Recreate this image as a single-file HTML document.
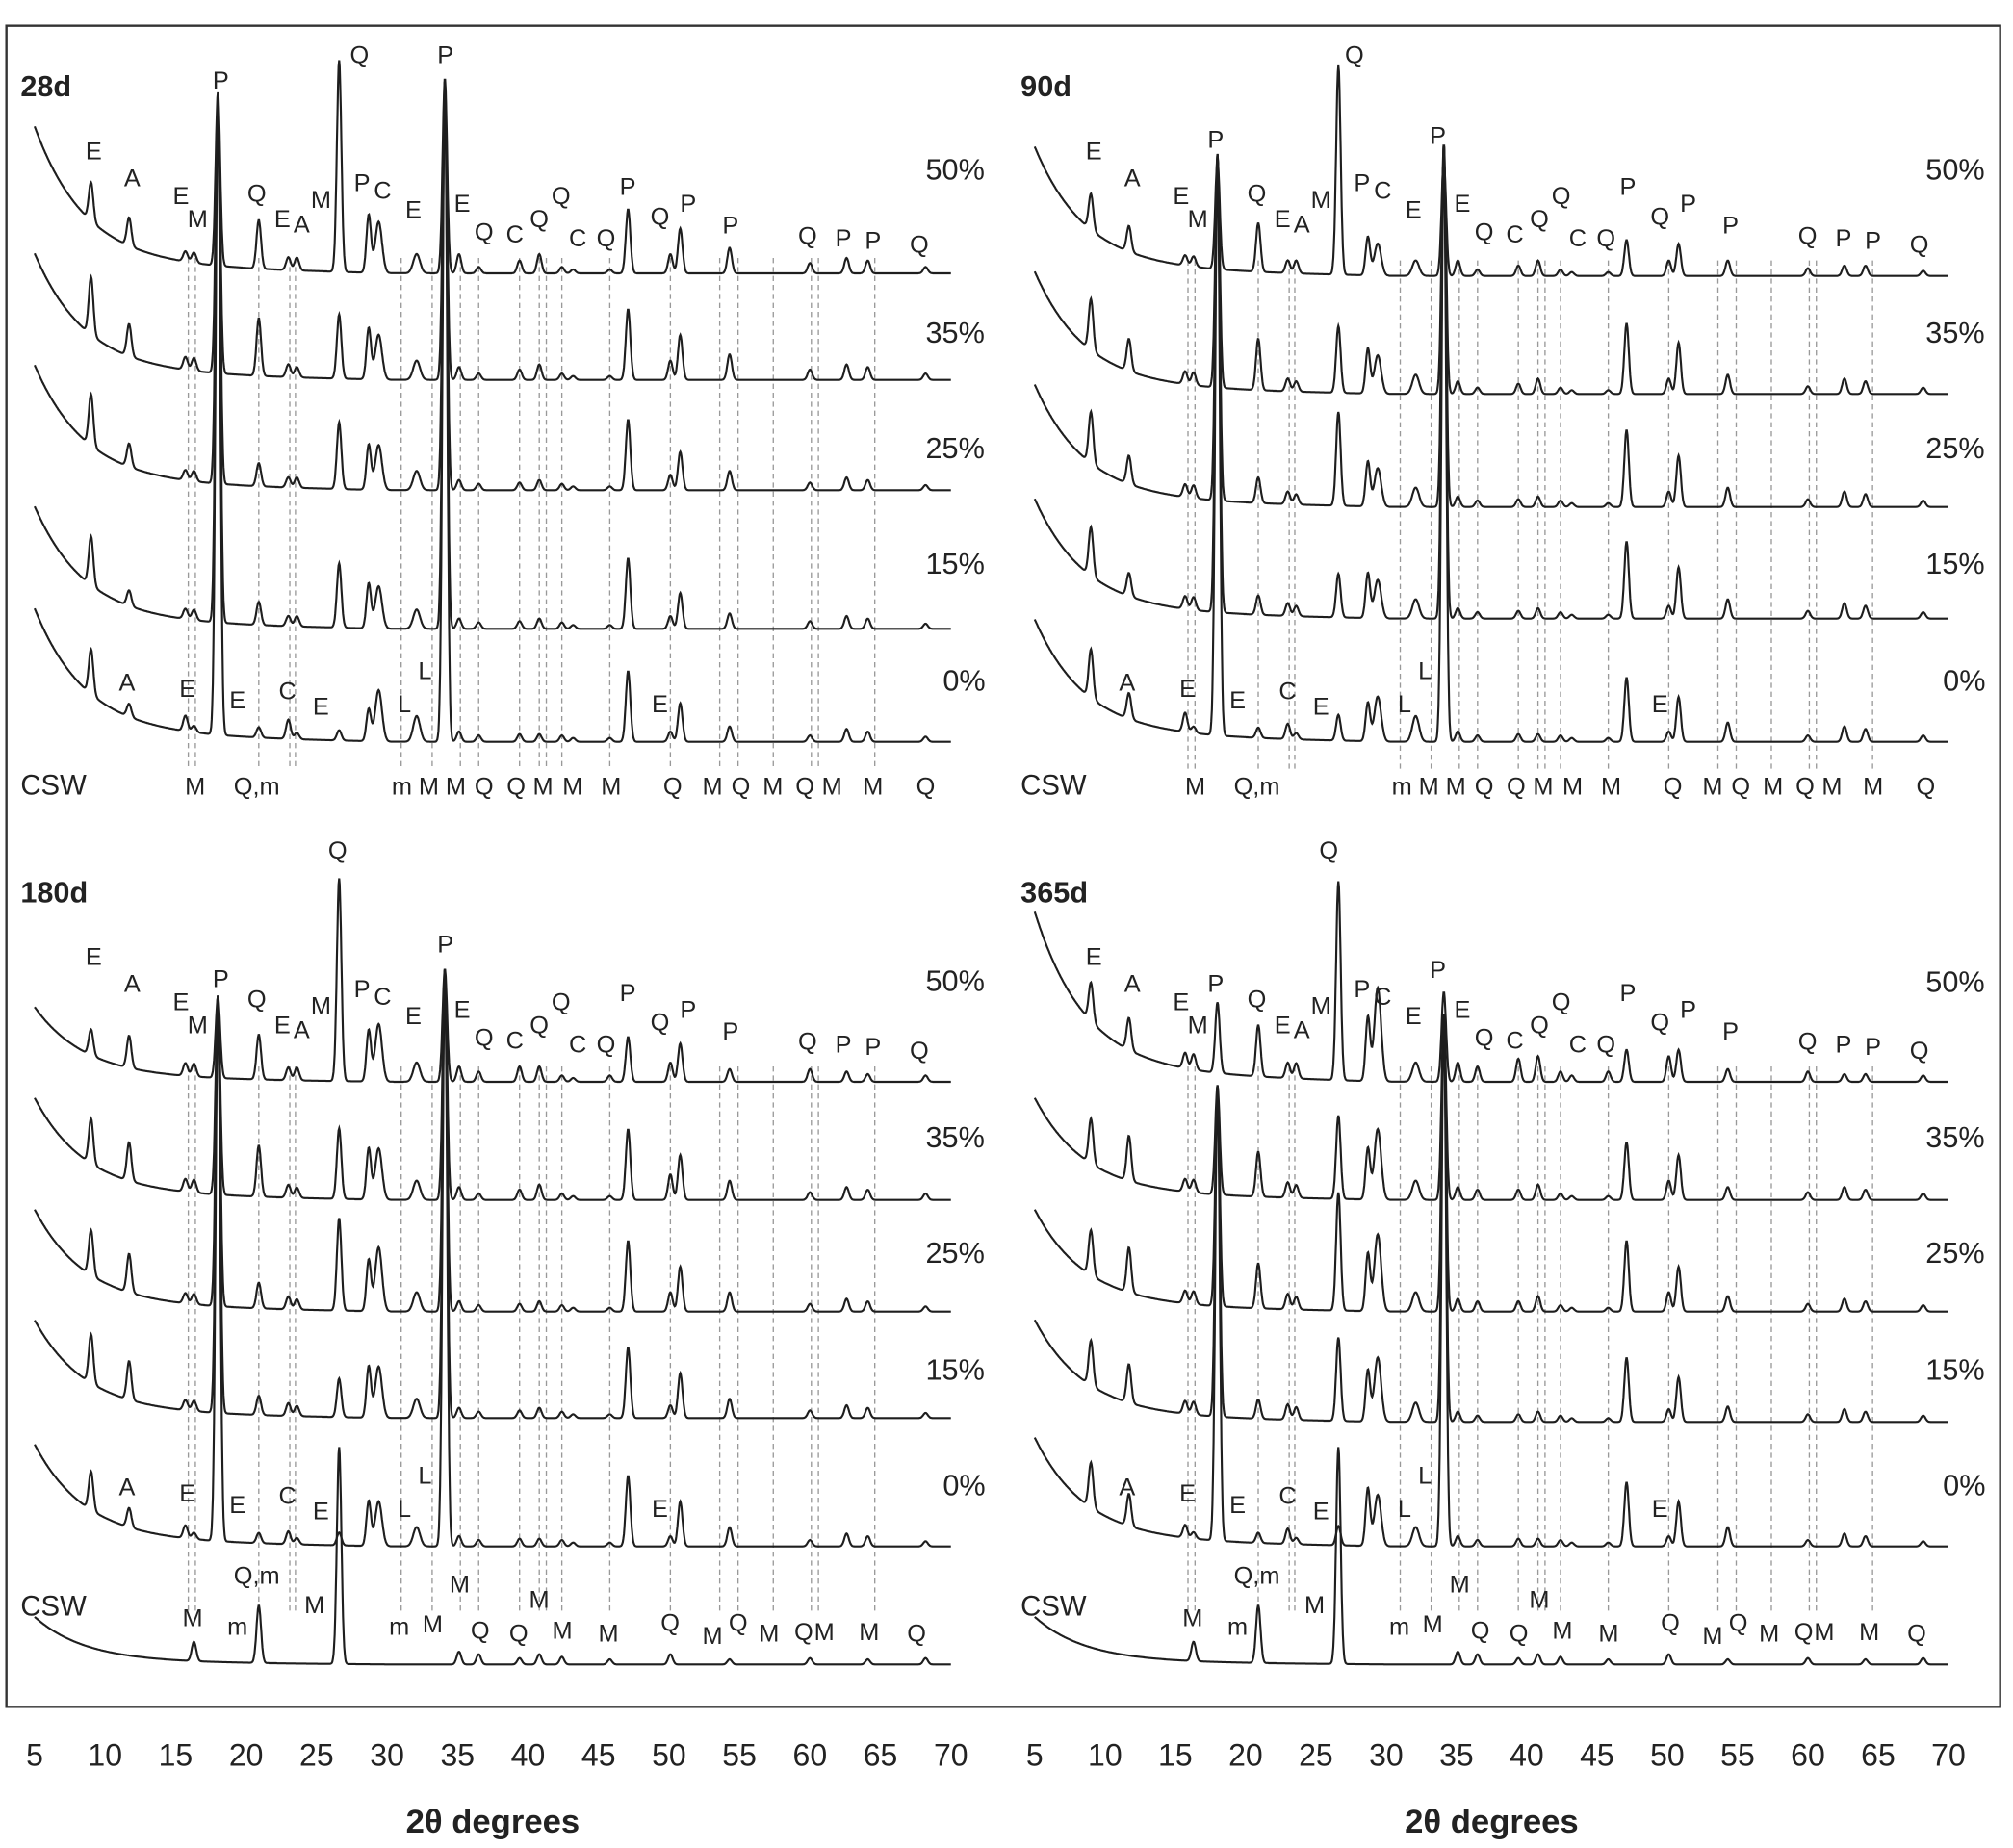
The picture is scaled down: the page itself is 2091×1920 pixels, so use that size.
<!DOCTYPE html>
<html><head><meta charset="utf-8"><style>
html,body{margin:0;padding:0;background:#fff;}
svg{display:block;}
text{font-family:"Liberation Sans",sans-serif;fill:#222;}
</style></head><body>
<svg id="chart" width="2091" height="1920" viewBox="0 0 1568 1440" preserveAspectRatio="none" xmlns="http://www.w3.org/2000/svg">
<rect x="5" y="20" width="1553" height="1310" fill="#fff" stroke="#333" stroke-width="1.8"/>
<g id="dash"></g><g id="traces"></g><g id="labels"></g><g id="axes"></g>
</svg>
<script>
const peakPos=[9.0,11.7,15.7,16.3,18.0,20.9,23.0,23.6,26.6,28.7,29.4,32.1,34.1,35.1,36.5,39.4,40.8,42.4,43.2,45.8,47.1,50.1,50.8,54.3,60.0,62.6,64.1,68.2];
const pctLabels=['50%','35%','25%','15%','0%'];
const xTicks=[5,10,15,20,25,30,35,40,45,50,55,60,65,70];
const dashPos=[15.9,16.4,20.9,23.1,23.5,31.0,33.2,35.2,36.5,39.4,40.8,41.3,42.4,45.8,50.1,53.6,54.9,57.4,60.1,60.6,64.6];
const h28=[
[30,22,8,8,135,38,10,10,165,45,40,15,152,15,5,10,15,5,3,3,50,15,35,20,8,12,10,5],
[45,25,10,10,215,45,10,8,50,40,35,15,233,10,5,8,12,5,3,3,55,15,35,20,8,12,10,5],
[40,18,8,8,302,18,8,8,52,35,35,15,320,8,5,6,8,5,3,3,55,12,30,15,6,10,8,4],
[38,12,8,8,410,18,8,8,50,35,33,15,428,8,5,6,8,5,3,3,55,10,28,12,6,10,8,4],
[35,10,12,5,498,8,15,5,8,25,40,20,516,8,5,6,6,5,3,3,55,8,30,12,5,10,8,4]];
const h90=[
[28,20,8,8,85,38,10,10,163,30,25,12,90,12,5,8,12,5,3,3,28,12,25,12,6,8,8,4],
[40,25,10,10,182,40,10,8,52,35,30,15,195,10,5,8,12,5,3,3,55,12,40,15,6,12,10,5],
[40,22,10,10,270,20,10,8,73,35,30,15,282,8,5,6,8,5,3,3,60,12,40,15,6,12,10,5],
[38,18,10,10,357,15,10,8,34,35,30,15,370,8,5,6,8,5,3,3,60,10,40,15,6,12,10,5],
[38,20,15,5,453,8,12,5,20,30,35,20,465,8,5,6,6,5,3,3,50,8,35,15,5,12,10,5]];
const h180=[
[20,25,10,10,63,35,10,10,158,40,45,15,88,12,8,12,12,5,3,5,35,15,30,10,10,8,6,5],
[35,30,10,10,155,40,10,8,55,40,40,15,180,10,5,8,12,5,3,3,55,20,35,15,6,10,8,5],
[35,30,8,8,242,20,10,8,72,40,50,15,267,8,5,6,8,5,3,3,55,15,35,15,6,10,8,4],
[38,30,8,8,325,15,10,8,30,40,40,15,350,8,5,6,8,5,3,3,55,10,35,15,6,10,8,4],
[30,15,10,5,425,8,10,5,10,35,35,15,450,8,5,6,6,5,3,3,55,8,35,15,5,10,8,4]];
const h365=[
[30,25,12,12,55,40,12,12,155,50,73,15,70,15,12,18,20,8,5,8,25,20,25,10,8,6,6,5],
[35,35,10,10,85,35,12,10,65,40,55,15,145,10,8,8,12,5,3,3,45,15,35,10,6,10,8,5],
[35,35,10,10,172,35,12,10,92,45,60,15,232,10,8,8,12,5,3,3,55,15,35,12,6,10,8,5],
[35,30,10,10,258,15,12,10,65,40,50,15,318,8,5,6,8,5,3,3,50,10,35,12,6,10,8,5],
[35,25,10,5,355,8,12,5,15,45,40,15,415,8,5,6,6,5,3,3,50,8,35,15,5,10,8,4]];
const hCSW=[0,0,0,15,0,45,0,0,169,0,0,0,0,10,8,5,8,6,0,4,0,8,0,4,5,0,4,5];
const bg28=[108,93,92,90,98];
const bg90=[95,90,90,88,90];
const bg180=[55,75,75,72,75];
const bg365=[125,75,75,75,80];
const bgCSW=35;

const panels=[
 {name:'28d',x0:27,k:10.98,base:[213,296,382,490,578],h:h28,bg:bg28,csw:null,dx:0,dy:0,pctY:[140,267,357,447,538],big:[['P',172,69],['Q',280,49],['P',347,49]]},
 {name:'90d',x0:806,k:10.95,base:[215,307,395,482,578],h:h90,bg:bg90,csw:null,dx:779,dy:0,pctY:[140,267,357,447,538],big:[['P',947,115],['Q',1055,49],['P',1120,112]]},
 {name:'180d',x0:27,k:10.98,base:[843,935,1022,1105,1205],h:h180,bg:bg180,csw:1297,dx:0,dy:628,pctY:[772,894,984,1075,1165],big:[['P',172,769],['Q',263,669],['P',347,742]]},
 {name:'365d',x0:806,k:10.95,base:[843,935,1022,1108,1205],h:h365,bg:bg365,csw:1297,dx:779,dy:628,pctY:[773,894,984,1075,1165],big:[['P',947,773],['Q',1035,669],['P',1120,762]]}];

const NS='http://www.w3.org/2000/svg';
const gT=document.getElementById('traces'),gL=document.getElementById('labels'),gD=document.getElementById('dash'),gA=document.getElementById('axes');
function xs(p,t){return p.x0+(t-5)*p.k;}
function trace(p,base,heights,amp,name){
  let d='';
  for(let t=5;t<=70.001;t+=0.04){
    let y=amp*Math.exp(-(t-5)/3.6)+0.06*amp*Math.max(0,(30-t)/25);
    for(let i=0;i<peakPos.length;i++){const s=(i===10||i===11)?0.24:0.16;const u=(t-peakPos[i])/s;if(Math.abs(u)<6)y+=heights[i]*Math.exp(-0.5*u*u);}
    d+=(d?'L':'M')+xs(p,t).toFixed(1)+','+(base-y).toFixed(1);
  }
  const el=document.createElementNS(NS,'path');
  el.setAttribute('d',d);el.setAttribute('fill','none');el.setAttribute('stroke','#1e1e1e');el.setAttribute('stroke-width','1.6');
  
  
  gT.appendChild(el);
}
function txt(g,s,x,y,size,bold,name,anchor){
  const el=document.createElementNS(NS,'text');
  el.setAttribute('x',x);el.setAttribute('y',y);el.setAttribute('font-size',size);
  if(bold)el.setAttribute('font-weight','bold');
  if(anchor)el.setAttribute('text-anchor',anchor);
  el.textContent=s;
  
  
  g.appendChild(el);
}
const topLbl=[['E',73,124],['A',103,145],['E',141,159],['M',154,177],['Q',200,157],['E',220,177],['A',235,181],['M',250,162],['P',282,149],['C',298,155],['E',322,170],['E',360,165],['Q',377,187],['C',401,189],['Q',420,177],['Q',437,159],['C',450,192],['Q',472,192],['P',489,152],['Q',514,175],['P',536,165],['P',569,182],['Q',629,190],['P',657,192],['P',680,194],['Q',716,197]];
const zeroLbl=[['A',99,538],['E',146,543],['E',185,552],['C',224,545],['E',250,557],['L',315,555],['L',331,529],['E',514,555]];
const cswTop=[['M',152,619],['Q,m',200,619],['m',313,619],['M',334,619],['M',355,619],['Q',377,619],['Q',402,619],['M',423,619],['M',446,619],['M',476,619],['Q',524,619],['M',555,619],['Q',577,619],['M',602,619],['Q',627,619],['M',648,619],['M',680,619],['Q',721,619]];
const cswBot=[['M',150,1267],['Q,m',200,1234],['m',185,1274],['M',245,1257],['m',311,1274],['M',337,1272],['M',358,1241],['Q',374,1277],['Q',404,1279],['M',420,1253],['M',438,1277],['M',474,1279],['Q',522,1271],['M',555,1281],['Q',575,1271],['M',599,1279],['Q',626,1278],['M',642,1278],['M',677,1278],['Q',714,1279]];

panels.forEach((p,pi)=>{
  const yTop=p.base[0]-12, yBot=(p.csw?p.csw-40:600);
  dashPos.forEach((t,i)=>{
    const l=document.createElementNS(NS,'line');
    l.setAttribute('x1',xs(p,t));l.setAttribute('x2',xs(p,t));l.setAttribute('y1',yTop);l.setAttribute('y2',yBot);
    l.setAttribute('stroke','#999');l.setAttribute('stroke-width','1');l.setAttribute('stroke-dasharray','4,3');
    
    
    gD.appendChild(l);
  });
  for(let s=4;s>=0;s--) trace(p,p.base[s],p.h[s],p.bg[s],'trace-'+p.name+'-'+pctLabels[s]);
  if(p.csw) trace(p,p.csw,hCSW,bgCSW,'trace-'+p.name+'-csw');
  txt(gL,p.name,16+p.dx,75+p.dy,23,true,'panel-title-'+p.name);
  pctLabels.forEach((s,i)=>txt(gL,s,(i==4?751:744)+p.dx,p.pctY[i],23,false,'pct-label','middle'));
  topLbl.forEach(a=>txt(gL,a[0],a[1]+p.dx,a[2]+p.dy,19,false,'peak-label','middle'));
  p.big.forEach(a=>txt(gL,a[0],a[1],a[2],19,false,'peak-label','middle'));
  zeroLbl.forEach(a=>txt(gL,a[0],a[1]+p.dx,a[2]+(p.base[4]-578),19,false,'peak-label','middle'));
  if(p.csw){
    txt(gL,'CSW',16+p.dx,1259,22,false,'csw-label');
    cswBot.forEach(a=>txt(gL,a[0],a[1]+p.dx,a[2],19,false,'phase-label','middle'));
  } else {
    txt(gL,'CSW',16+p.dx,619,22,false,'csw-label');
    cswTop.forEach(a=>txt(gL,a[0],a[1]+p.dx,a[2],19,false,'phase-label','middle'));
  }
});
[panels[0],panels[1]].forEach((p,i)=>{
  xTicks.forEach(t=>txt(gA,String(t),xs(p,t),1376,24,false,'x-tick-label','middle'));
  txt(gA,'2θ degrees',(xs(p,5)+xs(p,70))/2,1428,26,true,'x-axis-title','middle');
});
</script>
</body></html>
